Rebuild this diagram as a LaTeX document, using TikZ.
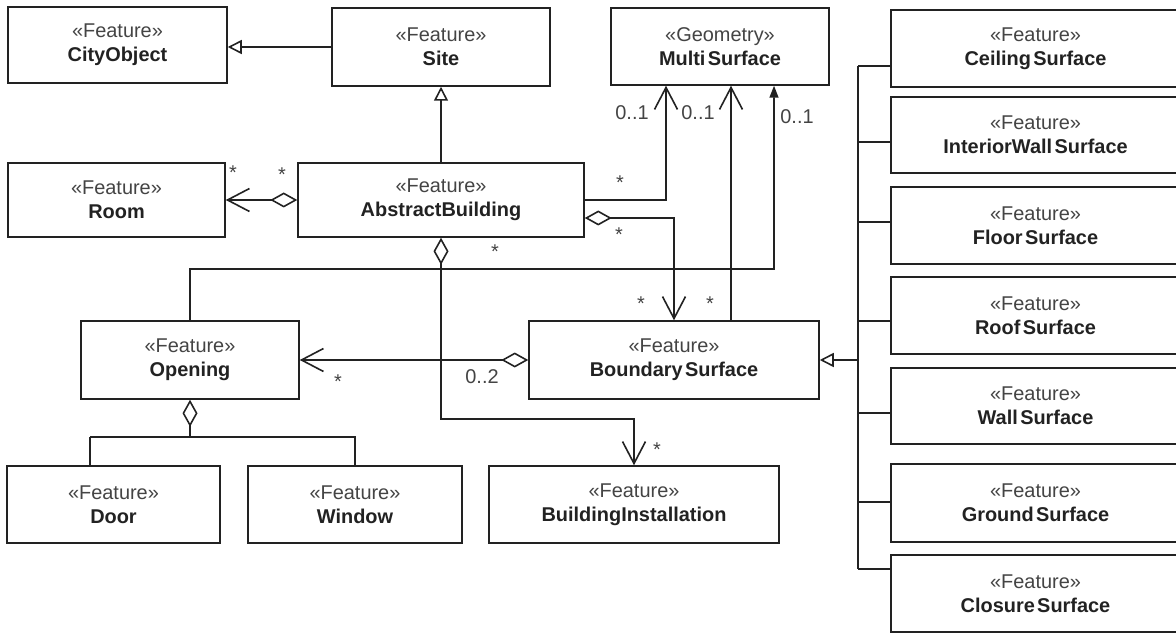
\documentclass[tikz,border=0pt]{standalone}
\usepackage{fontspec}
\setmainfont{Liberation Sans}
\usetikzlibrary{arrows.meta}
\definecolor{ink}{HTML}{222222}
\definecolor{stereoink}{HTML}{444444}
% two-line UML class label: stereotype above, class name in bold
\newcommand{\clslabel}[2]{{\color{stereoink}«#1»}\\{\bfseries #2}}
\newcommand{\sgap}{\hspace{0.12em}}
% \umlclass{name}{x1}{y1}{x2}{y2}{stereotype}{title}
\newcommand{\umlclass}[7]{%
  \node[classbox, minimum width={#4bp-#2bp}, minimum height={#5bp-#3bp}]
    (#1) at ({(#2+#4)/2},{(#3+#5)/2}) {\clslabel{#6}{#7}};}

\begin{document}
\begin{tikzpicture}[x=1bp,y=-1bp,
  every node/.style={font=\fontsize{20}{24}\selectfont},
  classbox/.style={draw=ink, line width=1.5bp, fill=white, align=center,
    inner sep=0pt, text=ink},
  mult/.style={text=stereoink, inner sep=0pt},
  star/.style={mult, yshift=-4.4bp},
  link/.style={draw=ink, line width=1.6bp},
  gen/.style={link, -{Triangle[open,length=14bp,width=14bp]}},
  assoc/.style={link, -{Straight Barb[length=22bp,width=23bp]}},
  assocfilled/.style={link, -{Triangle[length=12bp,width=9bp]}},
  aggr/.style={link, {Diamond[open,length=27bp,width=15bp]}-{Straight Barb[length=22bp,width=23bp]}},
  aggrplain/.style={link, {Diamond[open,length=27bp,width=15bp]}-},
]
\fill[white] (0,0) rectangle (1176,633);
\useasboundingbox (0,0) rectangle (1176,633);

% classes
\umlclass{city}{8}{7}{227}{83}{Feature}{CityObject}
\umlclass{site}{332}{8}{550}{86}{Feature}{Site}
\umlclass{multi}{611}{8}{829}{85}{Geometry}{Multi\sgap Surface}
\umlclass{room}{8}{163}{225}{237}{Feature}{Room}
\umlclass{ab}{298}{163}{584}{237}{Feature}{AbstractBuilding}
\umlclass{opening}{81}{321}{299}{399}{Feature}{Opening}
\umlclass{bs}{529}{321}{819}{399}{Feature}{Boundary\sgap Surface}
\umlclass{door}{7}{466}{220}{543}{Feature}{Door}
\umlclass{window}{248}{466}{462}{543}{Feature}{Window}
\umlclass{bi}{489}{466}{779}{543}{Feature}{BuildingInstallation}

\umlclass{ceiling}{891}{10}{1180}{87}{Feature}{Ceiling\sgap Surface}
\umlclass{interior}{891}{97}{1180}{173}{Feature}{InteriorWall\sgap Surface}
\umlclass{floor}{891}{187}{1180}{264}{Feature}{Floor\sgap Surface}
\umlclass{roof}{891}{277}{1180}{354}{Feature}{Roof\sgap Surface}
\umlclass{wall}{891}{368}{1180}{444}{Feature}{Wall\sgap Surface}
\umlclass{ground}{891}{464}{1180}{542}{Feature}{Ground\sgap Surface}
\umlclass{closure}{891}{555}{1180}{632}{Feature}{Closure\sgap Surface}

% bend points
\coordinate (bend3) at (774,269);
\coordinate (bend4) at (441,419);
\coordinate (obus) at (190,437);
\coordinate (doorT) at (90,437);
\coordinate (busT) at (858,66);
\coordinate (busB) at (858,569);

% generalizations
\draw[gen] (site.west) -- (site.west -| city.east);
\draw[gen] (ab.north) -- (site.south);

% associations / aggregations
\draw[aggr] (ab.west) -- (room.east);
\draw[assoc] (ab.east) -| ([xshift=-54bp]multi.south);
\draw[aggr] ([yshift=-18bp]ab.east) -| (bs.north);
\draw[assoc] ([xshift=57bp]bs.north) -- ([xshift=11bp]multi.south);
\draw[assocfilled] (opening.north) |- (bend3) -- ([xshift=54bp]multi.south);
\draw[aggr] (ab.south) |- (bi.north |- bend4) -- (bi.north);
\draw[aggr] (bs.west) -- (opening.east);

% Opening parts
\draw[aggrplain] (opening.south) -- (obus);
\draw[link] (doorT) -- (window.north |- obus) -- (window.north);
\draw[link] (doorT) -- (doorT |- door.north);

% BoundarySurface specialisations
\draw[link] (busT) -- (busB);
\draw[gen] (bs.east -| busT) -- (bs.east);
\draw[link] ([yshift=-17.5bp]ceiling.west) -- (busT);
\draw[link] ([yshift=-7bp]interior.west) -- ++(-33,0);
\draw[link] ([yshift=3.5bp]floor.west) -- ++(-33,0);
\draw[link] ([yshift=-5.5bp]roof.west) -- ++(-33,0);
\draw[link] ([yshift=-7bp]wall.west) -- ++(-33,0);
\draw[link] ([yshift=1bp]ground.west) -- ++(-33,0);
\draw[link] ([yshift=24.5bp]closure.west) -- (busB);

% multiplicities
\node[star] (mrooma) at (233,168) {*};
\node[star] (mroomb) at (282,170) {*};
\node[star] (mms1) at (620,178) {*};
\node[mult] (mms1t) at (632,113) {0..1};
\node[star] (mbsa) at (619,230) {*};
\node[star] (mbsb) at (641,299) {*};
\node[star] (mms2) at (710,299) {*};
\node[mult] (mms2t) at (698,113) {0..1};
\node[star] (mop) at (495,247) {*};
\node[mult] (mms3t) at (797,117) {0..1};
\node[star] (mopen) at (338,377) {*};
\node[mult] (mopent) at (482,377) {0..2};
\node[star] (mbi) at (657,445) {*};
\end{tikzpicture}
\end{document}
